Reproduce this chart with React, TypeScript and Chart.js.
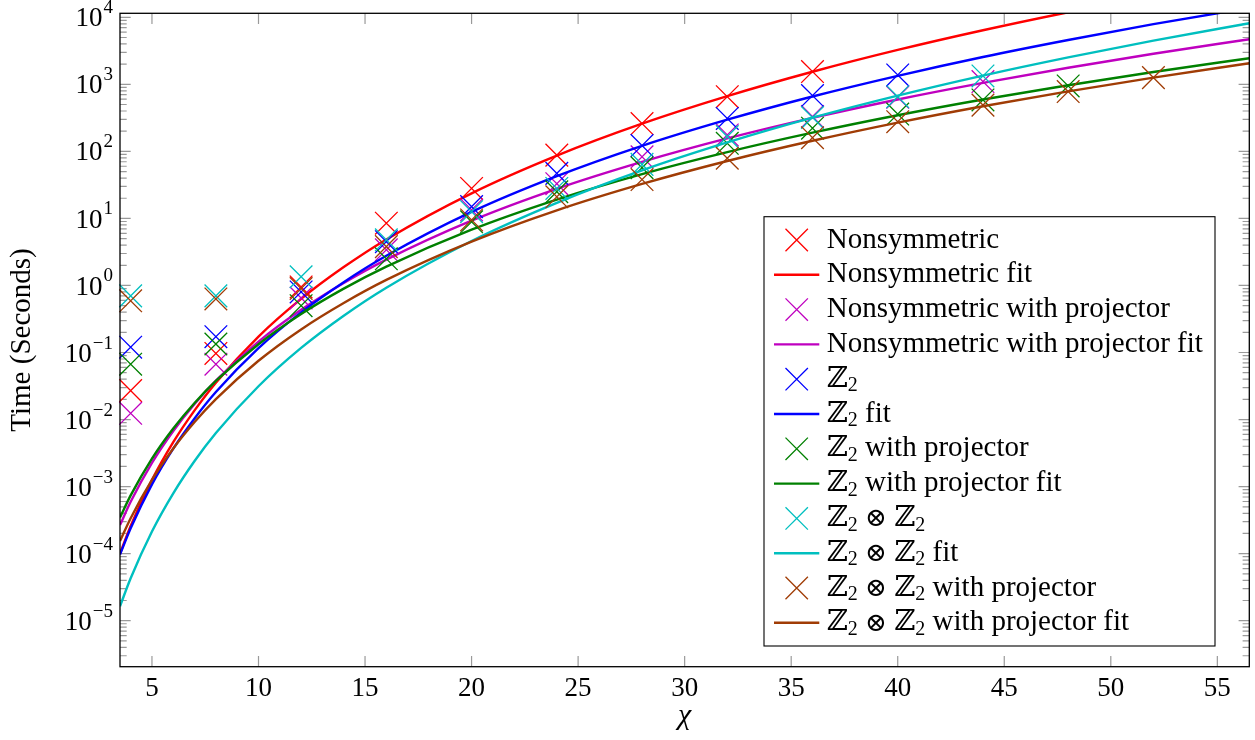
import React, { useEffect, useRef } from "react";
import { Chart, registerables } from "chart.js";

Chart.register(...registerables);

// ---- data ----
const markerX = [4, 8, 12, 16, 20, 24, 28, 32, 36, 40, 44, 48, 52];
const nonsymTimes = [0.027, 0.097, 0.95, 8.5, 28, 88, 260, 655, 1550];
const nonsymProjTimes = [0.0124, 0.067, 0.65, 3.4, 13.4, 33, 83, 176, 330, 640, 1100];
const z2Times = [0.12, 0.172, 0.8, 4.5, 15, 47, 122, 310, 680, 1380];
const z2ProjTimes = [0.067, 0.134, 0.5, 2.5, 8.9, 25, 57, 132, 222, 360, 585, 946];
const z2z2Times = [0.7, 0.7, 1.35, 4.8, 12.6, 28, 64, 166, 320, 655, 1333];
const z2z2ProjTimes = [0.59, 0.63, 0.9, 3.8, 9.5, 21, 38, 79, 160, 277, 490, 780, 1260];

const fitX = [3.5, 4, 5, 6, 7, 8, 10, 12, 14, 16, 20, 24, 28, 32, 36, 40, 44, 48, 52, 56.5];
const nonsymFit = [1.0e-4, 2.59e-4, 1.26e-3, 4.6e-3, 1.37e-2, 3.55e-2, 0.173, 0.631, 1.88, 4.86, 23.7, 86.5, 259, 667, 1540, 3260, 6410, 11900, 21000, 37800];
const nonsymProjFit = [2.67e-4, 5.94e-4, 2.26e-3, 6.76e-3, 1.71e-2, 3.8e-2, 0.145, 0.433, 1.09, 2.43, 9.27, 27.7, 69.8, 156, 316, 594, 1050, 1770, 2860, 4710];
const z2Fit = [9.7e-5, 2.39e-4, 1.08e-3, 3.69e-3, 1.04e-2, 2.57e-2, 0.116, 0.397, 1.12, 2.77, 12.5, 42.7, 121, 297, 659, 1340, 2560, 4590, 7890, 13800];
const z2ProjFit = [3.47e-4, 7.4e-4, 2.62e-3, 7.36e-3, 1.77e-2, 3.77e-2, 0.133, 0.375, 0.897, 1.91, 6.79, 19.1, 45.8, 97.5, 190, 346, 594, 971, 1530, 2450];
const z2z2Fit = [1.64e-5, 4.29e-5, 2.14e-4, 7.94e-4, 2.41e-3, 6.3e-3, 3.14e-2, 0.117, 0.354, 0.927, 4.61, 17.1, 52.1, 136, 318, 679, 1350, 2520, 4490, 8150];
const z2z2ProjFit = [1.54e-4, 3.38e-4, 1.26e-3, 3.7e-3, 9.18e-3, 2.02e-2, 7.53e-2, 0.221, 0.548, 1.21, 4.5, 13.2, 32.7, 71.9, 144, 269, 472, 787, 1260, 2060];

const seriesLabels = [
  "Nonsymmetric",
  "Nonsymmetric with projector",
  "ℤ₂",
  "ℤ₂ with projector",
  "ℤ₂ ⊗ ℤ₂",
  "ℤ₂ ⊗ ℤ₂ with projector",
];

const xTicks = [5, 10, 15, 20, 25, 30, 35, 40, 45, 50, 55];
const yTickExponents = [-5, -4, -3, -2, -1, 0, 1, 2, 3, 4];
const xMin = 3.5;
const xMax = 56.5;
const yMin = 2.06e-6;
const yMax = 11470;

// ---- styles ----
const seriesColors = ["#ff0000", "#bf00bf", "#0000ff", "#008000", "#00bfbf", "#a03c05"];
const FONT = '"Liberation Serif", "DejaVu Serif", serif';

function drawRich(ctx: CanvasRenderingContext2D, text: string, x: number, y: number, size: number) {
  let cx = x;
  // split into normal runs, subscript "₂" and the "⊗" operator
  const tokens = text.split(/(₂|⊗)/).filter((t) => t.length);
  for (const tok of tokens) {
    if (tok === "₂") {
      ctx.font = `${Math.round(size * 0.7)}px ${FONT}`;
      ctx.fillText("2", cx, y + size * 0.24);
      cx += ctx.measureText("2").width;
    } else if (tok === "⊗") {
      ctx.font = `${Math.round(size * 0.9)}px "DejaVu Serif", "DejaVu Sans", serif`;
      ctx.fillText("⊗", cx, y + 1);
      cx += ctx.measureText("⊗").width;
    } else {
      ctx.font = `${size}px ${FONT}`;
      ctx.fillText(tok, cx, y);
      cx += ctx.measureText(tok).width;
    }
  }
}

const framePlugin = {
  id: "frame",
  beforeDatasetsDraw(chart: any) {
    const { ctx, chartArea: a, scales } = chart;
    const x = scales.x;
    const y = scales.y;
    ctx.save();
    ctx.strokeStyle = "#9a9a9a";
    ctx.lineWidth = 1.2;
    ctx.beginPath();
    for (const v of xTicks) {
      const px = x.getPixelForValue(v);
      ctx.moveTo(px, a.bottom);
      ctx.lineTo(px, a.bottom - 10.7);
      ctx.moveTo(px, a.top);
      ctx.lineTo(px, a.top + 10.7);
    }
    for (let e = yTickExponents[0] - 1; e <= yTickExponents[yTickExponents.length - 1]; e++) {
      for (let m = 1; m <= 9; m++) {
        const v = m * Math.pow(10, e);
        if (v < yMin || v > yMax) continue;
        const py = y.getPixelForValue(v);
        const len = m === 1 ? 10.7 : 6.7;
        ctx.moveTo(a.left, py);
        ctx.lineTo(a.left + len, py);
        ctx.moveTo(a.right, py);
        ctx.lineTo(a.right - len, py);
      }
    }
    ctx.stroke();
    ctx.restore();
  },
  afterDatasetsDraw(chart: any) {
    const { ctx, chartArea: a, scales } = chart;
    const y = scales.y;
    ctx.save();
    ctx.strokeStyle = "#000";
    ctx.lineWidth = 1.3;
    ctx.strokeRect(a.left, a.top, a.right - a.left, a.bottom - a.top);
    ctx.fillStyle = "#000";
    ctx.textBaseline = "middle";
    ctx.textAlign = "right";
    for (const e of yTickExponents) {
      const py = y.getPixelForValue(Math.pow(10, e));
      const expStr = e < 0 ? "−" + Math.abs(e) : String(e);
      ctx.font = `19px ${FONT}`;
      const w = ctx.measureText(expStr).width;
      ctx.fillText(expStr, 113, py - 9);
      ctx.font = `27px ${FONT}`;
      ctx.fillText("10", 113 - w - 1, py + 2);
    }
    ctx.restore();
  },
};

const legendPlugin = {
  id: "boxLegend",
  afterDraw(chart: any) {
    const { ctx } = chart;
    const box = { left: 764, top: 216.7, right: 1215, bottom: 646 };
    const firstRow = 240;
    const pitch = 34.8;
    ctx.save();
    ctx.fillStyle = "#fff";
    ctx.fillRect(box.left, box.top, box.right - box.left, box.bottom - box.top);
    ctx.strokeStyle = "#000";
    ctx.lineWidth = 1.1;
    ctx.strokeRect(box.left, box.top, box.right - box.left, box.bottom - box.top);
    chart.data.datasets.forEach((ds: any, i: number) => {
      const cy = firstRow + i * pitch;
      ctx.strokeStyle = ds.borderColor;
      ctx.beginPath();
      if (ds.showLine === false) {
        ctx.lineWidth = 1.3;
        const h = 11.2;
        const cx = 796.7;
        ctx.moveTo(cx - h, cy - h);
        ctx.lineTo(cx + h, cy + h);
        ctx.moveTo(cx - h, cy + h);
        ctx.lineTo(cx + h, cy - h);
      } else {
        ctx.lineWidth = 2.4;
        ctx.moveTo(774, cy);
        ctx.lineTo(819.3, cy);
      }
      ctx.stroke();
      ctx.fillStyle = "#000";
      ctx.textAlign = "left";
      ctx.textBaseline = "middle";
      drawRich(ctx, ds.label, 826.7, cy, 29);
    });
    ctx.restore();
  },
};

export default function App() {
  const ref = useRef<HTMLCanvasElement>(null);
  useEffect(() => {
    document.body.style.margin = "0";
    const canvas = ref.current!;
    const markerSets = [nonsymTimes, nonsymProjTimes, z2Times, z2ProjTimes, z2z2Times, z2z2ProjTimes];
    const fitSets = [nonsymFit, nonsymProjFit, z2Fit, z2ProjFit, z2z2Fit, z2z2ProjFit];
    const datasets: any[] = [];
    seriesLabels.forEach((lab, i) => {
      datasets.push({
        label: lab,
        data: markerSets[i].map((v, j) => ({ x: markerX[j], y: v })),
        showLine: false,
        borderColor: seriesColors[i],
        backgroundColor: seriesColors[i],
        pointStyle: "crossRot",
        pointRadius: 16,
        pointHoverRadius: 16,
        pointBorderWidth: 1.3,
        pointBorderColor: seriesColors[i],
        clip: false,
      });
      datasets.push({
        label: lab + " fit",
        data: fitSets[i].map((v, j) => ({ x: fitX[j], y: v })),
        borderColor: seriesColors[i],
        backgroundColor: seriesColors[i],
        borderWidth: 2.4,
        pointRadius: 0,
        pointHoverRadius: 0,
        cubicInterpolationMode: "monotone",
        fill: false,
      });
    });
    datasets.forEach((d, k) => (d.order = datasets.length - k));

    const chart = new Chart(canvas, {
      type: "line",
      data: { datasets },
      options: {
        responsive: false,
        animation: false,
        devicePixelRatio: 1,
        events: [],
        layout: { autoPadding: false, padding: { left: 0, right: 5.7, top: 13.3, bottom: 0 } },
        plugins: { legend: { display: false }, tooltip: { enabled: false } },
        scales: {
          x: {
            type: "linear",
            min: xMin,
            max: xMax,
            afterBuildTicks: (s: any) => {
              s.ticks = xTicks.map((v) => ({ value: v }));
            },
            afterFit: (s: any) => {
              s.height = 73.3;
              s.paddingLeft = 0;
              s.paddingRight = 0;
            },
            grid: { display: false, drawTicks: false },
            border: { display: false },
            ticks: {
              font: { family: FONT, size: 27 },
              color: "#000",
              padding: 6,
              maxRotation: 0,
              autoSkip: false,
            },
            title: {
              display: true,
              text: "χ",
              color: "#000",
              font: { family: FONT, size: 30, style: "italic" },
              padding: { top: 0, bottom: 6 },
            },
          },
          y: {
            type: "logarithmic",
            min: yMin,
            max: yMax,
            afterFit: (s: any) => {
              s.width = 120;
              s.paddingTop = 0;
              s.paddingBottom = 0;
            },
            grid: { display: false, drawTicks: false },
            border: { display: false },
            ticks: { display: false },
            title: {
              display: true,
              text: "Time (Seconds)",
              color: "#000",
              font: { family: FONT, size: 29 },
              padding: { top: 5, bottom: 0 },
            },
          },
        },
      },
      plugins: [framePlugin, legendPlugin],
    } as any);
    return () => chart.destroy();
  }, []);
  return <canvas ref={ref} width={1255} height={740} style={{ display: "block" }} />;
}
